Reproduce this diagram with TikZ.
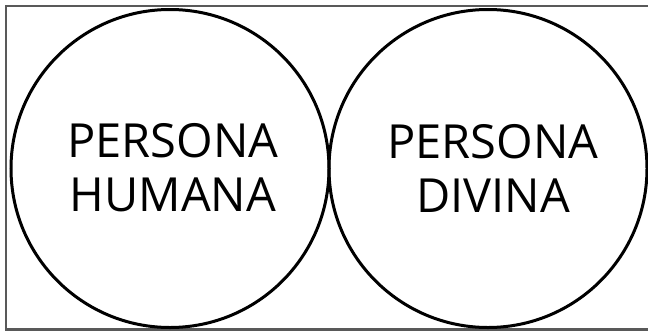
\documentclass[tikz,border=0pt]{standalone}
\usepackage{fontspec}
\setmainfont{Open Sans}
\begin{document}
\begin{tikzpicture}[x=1pt,y=-1pt,
  ring/.style={draw=black,line width=3pt,circle,minimum size=318pt,inner sep=0pt},
  label/.style={align=center,font=\fontsize{47}{54}\selectfont,inner sep=0pt}]
\useasboundingbox (0,0) rectangle (648,330);
\begin{scope}
\clip (0,0) rectangle (648,330);
\draw[draw=black!65,line width=2.4pt] (6,6) rectangle (660,329.5);
\end{scope}
\node[ring] (human) at (170,168.5) {};
\node[ring] (divine) at (488,168.5) {};
\node[label] (ht) at (173,168) {PERSONA\\HUMANA};
\node[label] (dt) at (493,168) {PERSONA\\DIVINA};
\end{tikzpicture}
\end{document}
